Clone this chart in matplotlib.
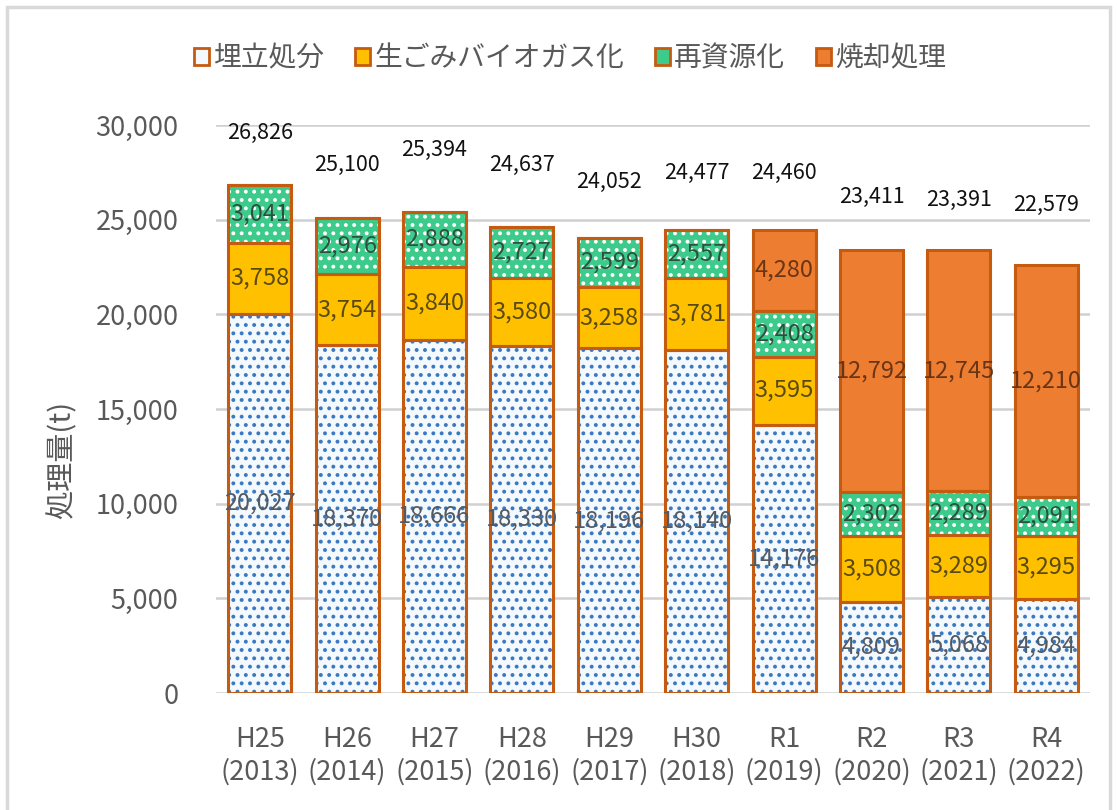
import matplotlib
matplotlib.use("Agg")
import matplotlib.pyplot as plt
from matplotlib.patches import Rectangle, Patch
import numpy as np

years = ["H25\n(2013)", "H26\n(2014)", "H27\n(2015)", "H28\n(2016)", "H29\n(2017)",
         "H30\n(2018)", "R1\n(2019)", "R2\n(2020)", "R3\n(2021)", "R4\n(2022)"]
landfill = [20027, 18370, 18666, 18330, 18196, 18140, 14176, 4809, 5068, 4984]
biogas = [3758, 3754, 3840, 3580, 3258, 3781, 3595, 3508, 3289, 3295]
recycle = [3041, 2976, 2888, 2727, 2599, 2557, 2408, 2302, 2289, 2091]
incin = [0, 0, 0, 0, 0, 0, 4280, 12792, 12745, 12210]
totals = [26826, 25100, 25394, 24637, 24052, 24477, 24460, 23411, 23391, 22579]
series_names = ["埋立処分", "生ごみバイオガス化", "再資源化", "焼却処理"]
yticks = [0, 5000, 10000, 15000, 20000, 25000, 30000]
# vertical offsets (data units) of total labels above bars
label_offsets = [2750, 2790, 3290, 3250, 2950, 3000, 3010, 2790, 2650, 3200]

JP = ["Noto Sans CJK JP", "DejaVu Sans"]
plt.rcParams['font.family'] = JP
plt.rcParams['hatch.linewidth'] = 1.6

fig = plt.figure(figsize=(11.17, 8.10), dpi=100)
ax = fig.add_axes([216/1117, 117/810, 874/1117, 568/810])

x = np.arange(len(years))
w = 0.72
edge = "#C55A11"
gray = "#595959"

fills = [
    dict(face="#F4F9FD", hatch="..", hcol="#3A78C0"),
    dict(face="#FFC000", hatch=None, hcol=None),
    dict(face="#3CCB8A", hatch="..", hcol="#FFFFFF"),
    dict(face="#ED7D31", hatch=None, hcol=None),
]
txtcol = ["#555a60", "#5a4a10", "#2f5040", "#6a3515"]
data = [landfill, biogas, recycle, incin]

bottom = np.zeros(len(years))
for k, vals in enumerate(data):
    vals = np.array(vals, dtype=float)
    f = fills[k]
    if f["hatch"]:
        ax.bar(x, vals, w, bottom=bottom, color=f["face"], edgecolor=f["hcol"],
               hatch=f["hatch"], linewidth=0, zorder=2)
    else:
        ax.bar(x, vals, w, bottom=bottom, color=f["face"], linewidth=0, zorder=2)
    ax.bar(x, vals, w, bottom=bottom, fill=False, edgecolor=edge, linewidth=2.2, zorder=3)
    for i, v in enumerate(vals):
        if v > 0:
            ax.text(x[i], bottom[i] + v/2, f"{int(v):,}", ha="center", va="center",
                    fontsize=17, color=txtcol[k], zorder=4)
    bottom += vals

for i, t in enumerate(totals):
    ax.text(x[i], t + label_offsets[i], f"{t:,}", ha="center", va="center",
            fontsize=15.5, color="#111111", zorder=4)

ax.set_xlim(-0.5, 9.5)
ax.set_ylim(0, 30000)
ax.set_yticks(yticks)
ax.set_yticklabels([f"{v:,}" for v in yticks], fontsize=19.5, color=gray)
ax.set_xticks(x)
ax.set_xticklabels(years, fontsize=19.5, color=gray, linespacing=1.25)
ax.tick_params(axis="both", length=0)
ax.tick_params(axis="y", pad=27)
ax.tick_params(axis="x", pad=24)
for s in ax.spines.values():
    s.set_visible(False)
ax.yaxis.grid(True, color="#D0D0D0", linewidth=1.8, zorder=0)
ax.set_axisbelow(True)

fig.text(62/1117, (810-460)/810, "処理量(t)", rotation=90, ha="center", va="center",
         fontsize=21, color=gray)

# legend
handles = []
for k in range(4):
    f = fills[k]
    handles.append(Patch(facecolor=f["face"], edgecolor=edge, linewidth=2,
                         label=series_names[k]))
leg = fig.legend(handles=handles, loc="center", bbox_to_anchor=(570/1117, (810-58)/810),
                 ncol=4, frameon=False, fontsize=20, handlelength=0.55, handleheight=0.55,
                 handletextpad=0.15, columnspacing=1.1, labelcolor=gray)

# outer frame
fig.patches.append(Rectangle((7/1117, -0.01), (1110-7)/1117, (810-7)/810 + 0.01,
                             transform=fig.transFigure, fill=False,
                             edgecolor="#D9D9D9", linewidth=2.5))

fig.savefig("out.png", dpi=100)
